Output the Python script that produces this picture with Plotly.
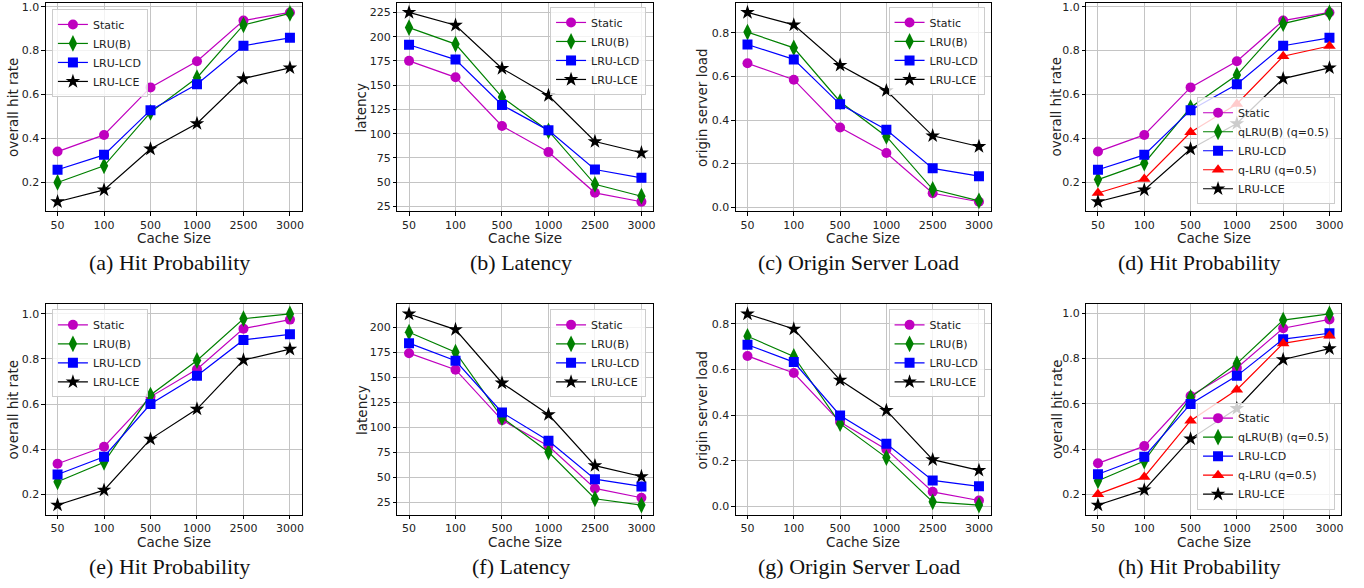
import plotly.graph_objects as go

W, H = 1364, 588

cache_sizes = ["50", "100", "500", "1000", "2500", "3000"]

# (a) Hit probability
a_static = [0.339, 0.415, 0.632, 0.751, 0.937, 0.974]
a_lrub = [0.198, 0.274, 0.518, 0.676, 0.917, 0.970]
a_lcd = [0.256, 0.324, 0.528, 0.646, 0.822, 0.858]
a_lce = [0.110, 0.164, 0.351, 0.467, 0.672, 0.721]
# (b) Latency
b_static = [175.1, 158.1, 107.9, 81.0, 39.0, 29.8]
b_lrub = [209.4, 192.4, 137.7, 102.8, 47.8, 35.5]
b_lcd = [191.7, 176.4, 129.6, 103.4, 63.0, 54.5]
b_lce = [225.0, 211.8, 167.3, 139.4, 91.9, 80.3]
# (c) Origin server load
c_static = [0.660, 0.585, 0.366, 0.249, 0.065, 0.026]
c_lrub = [0.803, 0.731, 0.484, 0.325, 0.083, 0.030]
c_lcd = [0.746, 0.678, 0.472, 0.356, 0.179, 0.143]
c_lce = [0.893, 0.836, 0.651, 0.535, 0.328, 0.279]
# (d) Hit probability
d_static = [0.339, 0.415, 0.632, 0.751, 0.937, 0.974]
d_qlrub = [0.211, 0.286, 0.540, 0.688, 0.923, 0.972]
d_lcd = [0.256, 0.324, 0.528, 0.646, 0.822, 0.858]
d_qlru = [0.150, 0.214, 0.427, 0.556, 0.774, 0.821]
d_lce = [0.110, 0.164, 0.351, 0.467, 0.672, 0.721]
# (e) Hit probability
e_static = [0.336, 0.411, 0.632, 0.754, 0.934, 0.974]
e_lrub = [0.256, 0.342, 0.640, 0.793, 0.978, 0.999]
e_lcd = [0.288, 0.367, 0.600, 0.725, 0.884, 0.909]
e_lce = [0.153, 0.219, 0.445, 0.578, 0.795, 0.843]
# (f) Latency
f_static = [174.1, 157.6, 107.2, 81.3, 38.9, 29.6]
f_lrub = [195.0, 175.1, 109.8, 75.3, 28.6, 22.3]
f_lcd = [184.1, 166.5, 114.8, 86.6, 48.2, 40.9]
f_lce = [213.3, 197.7, 144.3, 112.8, 61.7, 50.8]
# (g) Origin server load
g_static = [0.660, 0.585, 0.370, 0.250, 0.064, 0.026]
g_lrub = [0.746, 0.658, 0.363, 0.214, 0.020, 0.006]
g_lcd = [0.709, 0.633, 0.399, 0.275, 0.114, 0.088]
g_lce = [0.844, 0.778, 0.554, 0.421, 0.205, 0.158]
# (h) Hit probability
h_static = [0.337, 0.413, 0.634, 0.758, 0.933, 0.972]
h_qlrub = [0.260, 0.347, 0.628, 0.777, 0.969, 0.996]
h_lcd = [0.289, 0.366, 0.599, 0.723, 0.885, 0.911]
h_qlru = [0.201, 0.277, 0.525, 0.662, 0.866, 0.900]
h_lce = [0.153, 0.220, 0.445, 0.579, 0.795, 0.843]

STYLE = {
    "Static": dict(color="#bf00bf", symbol="circle", size=10),
    "LRU(B)": dict(color="#008000", symbol="diamond-tall", size=12),
    "qLRU(B) (q=0.5)": dict(color="#008000", symbol="diamond-tall", size=12),
    "LRU-LCD": dict(color="#0000ff", symbol="square", size=10),
    "q-LRU (q=0.5)": dict(color="#ff0000", symbol="triangle-up", size=11),
    "LRU-LCE": dict(color="#000000", symbol="star", size=11),
}

panels = [
    dict(series=[("Static", a_static), ("LRU(B)", a_lrub), ("LRU-LCD", a_lcd), ("LRU-LCE", a_lce)],
         ylabel="overall hit rate", caption="(a) Hit Probability", dtick=0.2, fmt=".1f",
         legpos=("tl", 52, 7), ylab_x=13, cap_x=170),
    dict(series=[("Static", b_static), ("LRU(B)", b_lrub), ("LRU-LCD", b_lcd), ("LRU-LCE", b_lce)],
         ylabel="latency", caption="(b) Latency", dtick=25, fmt="d",
         legpos=("tr", 647, 5), ylab_x=362, cap_x=522),
    dict(series=[("Static", c_static), ("LRU(B)", c_lrub), ("LRU-LCD", c_lcd), ("LRU-LCE", c_lce)],
         ylabel="origin server load", caption="(c) Origin Server Load", dtick=0.2, fmt=".1f",
         legpos=("tr", 986, 5), ylab_x=703, cap_x=860),
    dict(series=[("Static", d_static), ("qLRU(B) (q=0.5)", d_qlrub), ("LRU-LCD", d_lcd),
                 ("q-LRU (q=0.5)", d_qlru), ("LRU-LCE", d_lce)],
         ylabel="overall hit rate", caption="(d) Hit Probability", dtick=0.2, fmt=".1f",
         legpos=("br", 1337, 204), ylab_x=1058, cap_x=1201),
    dict(series=[("Static", e_static), ("LRU(B)", e_lrub), ("LRU-LCD", e_lcd), ("LRU-LCE", e_lce)],
         ylabel="overall hit rate", caption="(e) Hit Probability", dtick=0.2, fmt=".1f",
         legpos=("tl", 52, 310), ylab_x=13, cap_x=170),
    dict(series=[("Static", f_static), ("LRU(B)", f_lrub), ("LRU-LCD", f_lcd), ("LRU-LCE", f_lce)],
         ylabel="latency", caption="(f) Latency", dtick=25, fmt="d",
         legpos=("tr", 647, 310), ylab_x=362, cap_x=522),
    dict(series=[("Static", g_static), ("LRU(B)", g_lrub), ("LRU-LCD", g_lcd), ("LRU-LCE", g_lce)],
         ylabel="origin server load", caption="(g) Origin Server Load", dtick=0.2, fmt=".1f",
         legpos=("tr", 986, 310), ylab_x=703, cap_x=860),
    dict(series=[("Static", h_static), ("qLRU(B) (q=0.5)", h_qlrub), ("LRU-LCD", h_lcd),
                 ("q-LRU (q=0.5)", h_qlru), ("LRU-LCE", h_lce)],
         ylabel="overall hit rate", caption="(h) Hit Probability", dtick=0.2, fmt=".1f",
         legpos=("br", 1337, 512), ylab_x=1058, cap_x=1201),
]

col_px = [(46, 302), (398, 654), (737, 992), (1088, 1343)]
row_px = [(1, 211), (305, 517)]
xtitle_y = [238, 545]
caption_y = [263, 569]

SANS = "DejaVu Sans"
fig = go.Figure()
layout = dict(width=W, height=H, margin=dict(l=0, r=0, t=0, b=0),
              paper_bgcolor="white", plot_bgcolor="white", showlegend=True,
              annotations=[])

for i, p in enumerate(panels):
    r, c = divmod(i, 4)
    n = i + 1
    xa = "x" if n == 1 else f"x{n}"
    ya = "y" if n == 1 else f"y{n}"
    lg = "legend" if n == 1 else f"legend{n}"
    x0, x1 = col_px[c]
    y0, y1 = row_px[r]
    allv = [v for _, s in p["series"] for v in s]
    lo, hi = min(allv), max(allv)
    pad = 0.05 * (hi - lo)
    for name, vals in p["series"]:
        st = STYLE[name]
        fig.add_trace(go.Scatter(
            x=cache_sizes, y=vals, name=name, mode="lines+markers",
            line=dict(color=st["color"], width=1.2),
            marker=dict(color=st["color"], symbol=st["symbol"], size=st["size"]),
            xaxis=xa, yaxis=ya, legend=lg, showlegend=True))
    axcommon = dict(showline=True, linecolor="black", linewidth=1, mirror=True,
                    ticks="outside", ticklen=3.5, tickcolor="black",
                    showgrid=True, gridcolor="#c4c4c4", gridwidth=1.2,
                    zeroline=False, ticklabeloverflow="allow",
                    tickfont=dict(family=SANS, size=11, color="#222"))
    layout["xaxis" if n == 1 else f"xaxis{n}"] = dict(
        axcommon, domain=[x0 / W, x1 / W], anchor=ya, type="category",
        range=[-0.25, len(cache_sizes) - 0.75])
    layout["yaxis" if n == 1 else f"yaxis{n}"] = dict(
        axcommon, domain=[1 - y1 / H, 1 - y0 / H], anchor=xa,
        range=[lo - pad, hi + pad], dtick=p["dtick"], tick0=0, tickformat=p["fmt"])
    kind, lx, ly = p["legpos"]
    leg = dict(font=dict(family=SANS, size=11, color="#222"),
               bgcolor="rgba(255,255,255,0.8)", bordercolor="#cccccc", borderwidth=1,
               x=lx / W, xanchor="left" if kind[1] == "l" else "right",
               y=1 - ly / H, yanchor="top" if kind[0] == "t" else "bottom",
               itemwidth=30, tracegroupgap=0)
    layout[lg] = leg
    layout["annotations"].append(dict(
        text="Cache Size", x=(x0 + x1) / 2 / W, y=1 - xtitle_y[r] / H, xref="paper", yref="paper",
        showarrow=False, xanchor="center", yanchor="middle",
        font=dict(family=SANS, size=13.5, color="#222")))
    layout["annotations"].append(dict(
        text=p["ylabel"], x=p["ylab_x"] / W, y=1 - (y0 + y1) / 2 / H, xref="paper", yref="paper",
        showarrow=False, xanchor="center", yanchor="middle", textangle=-90,
        font=dict(family=SANS, size=13.5, color="#222")))
    layout["annotations"].append(dict(
        text=p["caption"], x=p["cap_x"] / W, y=1 - caption_y[r] / H, xref="paper", yref="paper",
        showarrow=False, xanchor="center", yanchor="middle",
        font=dict(family="Liberation Serif", size=22, color="#111")))

fig.update_layout(**layout)
fig.write_html("out.html", config={"displayModeBar": False},
               post_script="document.body.style.margin='0';document.body.style.overflow='hidden';")
